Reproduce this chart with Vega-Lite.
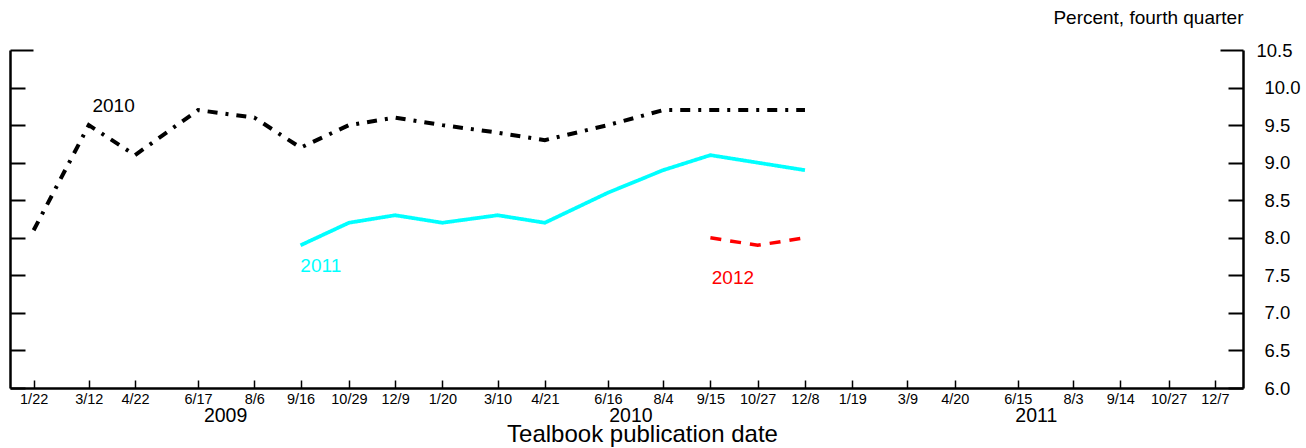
{
  "$schema": "https://vega.github.io/schema/vega-lite/v6.json",
  "autosize": "none",
  "width": 1233,
  "height": 338,
  "padding": {"left": 10, "top": 50, "right": 63, "bottom": 60},
  "config": {
    "font": "Liberation Sans",
    "view": {"stroke": null},
    "axis": {"grid": false, "labelColor": "black", "titleColor": "black", "domainColor": "black", "tickColor": "black", "titleFontWeight": "normal"}
  },
  "datasets": {
    "lines": [
      {"date": "2009/01/22", "value": 8.1, "series": "2010"},
      {"date": "2009/03/12", "value": 9.5, "series": "2010"},
      {"date": "2009/04/22", "value": 9.1, "series": "2010"},
      {"date": "2009/06/17", "value": 9.7, "series": "2010"},
      {"date": "2009/08/06", "value": 9.6, "series": "2010"},
      {"date": "2009/09/16", "value": 9.2, "series": "2010"},
      {"date": "2009/10/29", "value": 9.5, "series": "2010"},
      {"date": "2009/12/09", "value": 9.6, "series": "2010"},
      {"date": "2010/01/20", "value": 9.5, "series": "2010"},
      {"date": "2010/03/10", "value": 9.4, "series": "2010"},
      {"date": "2010/04/21", "value": 9.3, "series": "2010"},
      {"date": "2010/06/16", "value": 9.5, "series": "2010"},
      {"date": "2010/08/04", "value": 9.7, "series": "2010"},
      {"date": "2010/09/15", "value": 9.7, "series": "2010"},
      {"date": "2010/10/27", "value": 9.7, "series": "2010"},
      {"date": "2010/12/08", "value": 9.7, "series": "2010"},
      {"date": "2009/09/16", "value": 7.9, "series": "2011"},
      {"date": "2009/10/29", "value": 8.2, "series": "2011"},
      {"date": "2009/12/09", "value": 8.3, "series": "2011"},
      {"date": "2010/01/20", "value": 8.2, "series": "2011"},
      {"date": "2010/03/10", "value": 8.3, "series": "2011"},
      {"date": "2010/04/21", "value": 8.2, "series": "2011"},
      {"date": "2010/06/16", "value": 8.6, "series": "2011"},
      {"date": "2010/08/04", "value": 8.9, "series": "2011"},
      {"date": "2010/09/15", "value": 9.1, "series": "2011"},
      {"date": "2010/10/27", "value": 9.0, "series": "2011"},
      {"date": "2010/12/08", "value": 8.9, "series": "2011"},
      {"date": "2010/09/15", "value": 8.0, "series": "2012"},
      {"date": "2010/10/27", "value": 7.9, "series": "2012"},
      {"date": "2010/12/08", "value": 8.0, "series": "2012"}
    ],
    "labels": [
      {"date": "2009/04/03", "value": 9.76, "series": "2010"},
      {"date": "2009/10/04", "value": 7.62, "series": "2011"},
      {"date": "2010/10/05", "value": 7.47, "series": "2012"}
    ]
  },
  "layer": [
    {
      "data": {"name": "lines"},
      "mark": {"type": "line", "strokeCap": "butt", "strokeJoin": "miter"},
      "encoding": {
        "x": {
          "field": "date", "type": "temporal",
          "scale": {"domain": [{"year": 2009, "month": 1, "date": 1}, {"year": 2012, "month": 1, "date": 1}], "nice": false},
          "axis": {
            "orient": "bottom", "title": null, "format": "%-m/%-d",
            "values": [
              {"year": 2009, "month": 1, "date": 22}, {"year": 2009, "month": 3, "date": 12}, {"year": 2009, "month": 4, "date": 22},
              {"year": 2009, "month": 6, "date": 17}, {"year": 2009, "month": 8, "date": 6}, {"year": 2009, "month": 9, "date": 16},
              {"year": 2009, "month": 10, "date": 29}, {"year": 2009, "month": 12, "date": 9},
              {"year": 2010, "month": 1, "date": 20}, {"year": 2010, "month": 3, "date": 10}, {"year": 2010, "month": 4, "date": 21},
              {"year": 2010, "month": 6, "date": 16}, {"year": 2010, "month": 8, "date": 4}, {"year": 2010, "month": 9, "date": 15},
              {"year": 2010, "month": 10, "date": 27}, {"year": 2010, "month": 12, "date": 8},
              {"year": 2011, "month": 1, "date": 19}, {"year": 2011, "month": 3, "date": 9}, {"year": 2011, "month": 4, "date": 20},
              {"year": 2011, "month": 6, "date": 15}, {"year": 2011, "month": 8, "date": 3}, {"year": 2011, "month": 9, "date": 14},
              {"year": 2011, "month": 10, "date": 27}, {"year": 2011, "month": 12, "date": 7}
            ],
            "labelFontSize": 14.5, "labelPadding": 12, "tickSize": -8, "tickWidth": 1.5,
            "domainWidth": 2.5, "labelOverlap": false, "labelFlush": false
          }
        },
        "y": {
          "field": "value", "type": "quantitative",
          "scale": {"domain": [6, 10.5], "nice": false, "zero": false},
          "axis": {
            "orient": "right", "values": [6, 6.5, 7, 7.5, 8, 8.5, 9, 9.5, 10, 10.5], "format": ".1f",
            "tickSize": {"condition": {"test": "datum.value === 10.5", "value": -23}, "value": -15},
            "tickWidth": 2, "domainWidth": 2.5, "labelFontSize": 18.5, "labelPadding": 36,
            "title": "Percent, fourth quarter", "titleAngle": 0, "titleAlign": "right", "titleX": 0, "titleY": -33,
            "titleBaseline": "middle", "titleFontSize": 19
          }
        },
        "color": {"field": "series", "type": "nominal", "scale": {"domain": ["2010", "2011", "2012"], "range": ["#000000", "#00FFFF", "#FF0000"]}, "legend": null},
        "strokeDash": {"field": "series", "type": "nominal", "scale": {"domain": ["2010", "2011", "2012"], "range": [[10, 8, 3, 8], [1, 0], [11, 9]]}, "legend": null},
        "size": {"field": "series", "type": "nominal", "scale": {"domain": ["2010", "2011", "2012"], "range": [4, 3.5, 3]}, "legend": null}
      }
    },
    {
      "data": {"name": "labels"},
      "mark": {"type": "text", "fontSize": 19, "align": "center", "baseline": "middle"},
      "encoding": {
        "x": {
          "field": "date", "type": "temporal",
          "axis": {
            "orient": "bottom", "format": "%Y",
            "values": [{"year": 2009, "month": 7, "date": 11}, {"year": 2010, "month": 7, "date": 6}, {"year": 2011, "month": 7, "date": 1}],
            "ticks": false, "domain": false, "labelPadding": 18, "labelFontSize": 19.5, "labelFlush": false,
            "title": "Tealbook publication date", "titleFontSize": 24, "titleX": 632, "titleY": 46, "titleBaseline": "middle"
          }
        },
        "y": {
          "field": "value", "type": "quantitative",
          "axis": {
            "orient": "left", "labels": false, "title": null, "values": [6, 6.5, 7, 7.5, 8, 8.5, 9, 9.5, 10, 10.5],
            "tickSize": {"condition": {"test": "datum.value === 10.5", "value": -23}, "value": -15},
            "tickWidth": 2, "domainWidth": 2.5
          }
        },
        "text": {"field": "series", "type": "nominal"},
        "color": {"field": "series", "type": "nominal", "legend": null}
      }
    }
  ],
  "resolve": {"axis": {"x": "independent", "y": "independent"}}
}
